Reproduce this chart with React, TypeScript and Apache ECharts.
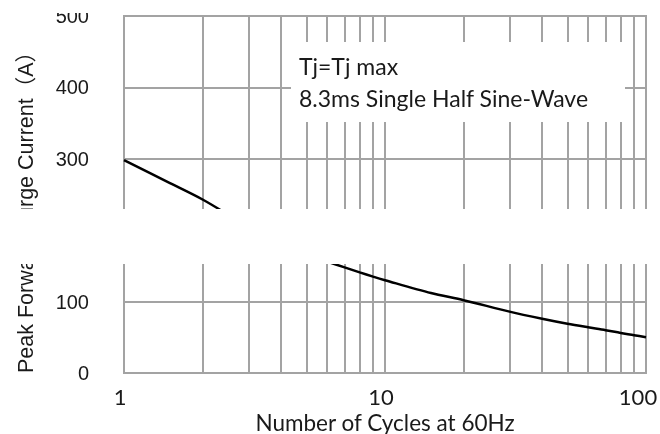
import React, { useEffect, useRef } from "react";
import * as echarts from "echarts";

const cycles = [1, 1.5, 2, 3, 4, 5, 6, 7, 8, 9, 10, 15, 20, 30, 40, 50, 60, 70, 80, 90, 100];
const surgeCurrent = [298, 266, 243, 205, 182, 166, 156, 148, 141, 135, 130, 112, 102, 86, 76, 69, 64, 60, 56, 53, 50];
const minorGridX = [2, 3, 4, 5, 6, 7, 8, 9, 20, 30, 40, 50, 60, 70, 80, 90];
const yTicks = [0, 100, 200, 300, 400, 500];
const noteLines = ["Tj=Tj max", "8.3ms Single Half Sine-Wave"];
const xName = "Number of Cycles at 60Hz";
const yName = "Peak Forward Surge Current\uFF08A\uFF09";

const GRID = "#a3a3a3";
const SANS = "Lato, 'Open Sans', sans-serif";

export default function App() {
  const ref = useRef<HTMLDivElement>(null);
  useEffect(() => {
    document.body.style.margin = "0";
    const chart = echarts.init(ref.current!, null, { renderer: "svg", width: 660, height: 434 });
    const tick = { fontFamily: SANS, fontSize: 22, lineHeight: 22, color: "#1a1a1a" };
    chart.setOption({
      animation: false,
      grid: {
        left: 124,
        right: 14,
        top: 16,
        bottom: 61,
        containLabel: false,
        outerBoundsMode: "none",
        show: true,
        borderColor: GRID,
        borderWidth: 2,
      },
      xAxis: {
        type: "log",
        logBase: 10,
        min: 1,
        max: 100,
        name: xName,
        nameLocation: "middle",
        nameGap: 38,
        nameMoveOverlap: false,
        nameTextStyle: { fontFamily: SANS, fontSize: 22.5, lineHeight: 22, color: "#1a1a1a" },
        axisLine: { show: true, lineStyle: { color: GRID, width: 2 } },
        axisTick: { show: false },
        axisLabel: {
          margin: 12,
          ...tick,
          formatter: (v: number) => (v >= 100 ? `{c|${v}}` : `{a|${v}}`),
          rich: {
            a: { ...tick, padding: [0, 8, 0, 0] },
            c: { ...tick, padding: [0, 16, 0, 0] },
          },
        },
        splitLine: { show: true, lineStyle: { color: GRID, width: 2 } },
      },
      yAxis: {
        type: "value",
        min: yTicks[0],
        max: yTicks[yTicks.length - 1],
        interval: 100,
        axisLine: { show: true, lineStyle: { color: GRID, width: 2 } },
        axisTick: { show: false },
        axisLabel: { margin: 35, fontFamily: "'Liberation Sans', Arial, sans-serif", fontSize: 20, color: "#1a1a1a" },
        splitLine: { show: true, lineStyle: { color: GRID, width: 2 } },
      },
      series: [
        {
          type: "line",
          data: [],
          z: 1,
          markLine: {
            silent: true,
            symbol: ["none", "none"],
            label: { show: false },
            lineStyle: { color: GRID, width: 2, type: "solid" },
            data: minorGridX.map((v) => ({ xAxis: v })),
          },
        },
        {
          type: "line",
          z: 5,
          symbol: "none",
          smooth: 0.3,
          lineStyle: { color: "#000", width: 2.5 },
          data: cycles.map((c, i) => [c, surgeCurrent[i]]),
        },
      ],
      graphic: [
        {
          type: "text",
          x: 26,
          y: 207,
          rotation: Math.PI / 2,
          z: 100,
          style: {
            text: yName,
            fontFamily: "'Liberation Sans', Arial, 'Noto Sans CJK SC', sans-serif",
            fontSize: 21.5,
            fill: "#1a1a1a",
            textAlign: "center",
            textVerticalAlign: "middle",
          },
        },
        { type: "rect", z: 110, shape: { x: 0, y: 0, width: 110, height: 13 }, style: { fill: "#fff" } },
        { type: "rect", z: 110, shape: { x: 0, y: 209, width: 660, height: 55 }, style: { fill: "#fff" } },
        { type: "rect", z: 110, shape: { x: 291, y: 42, width: 334, height: 80 }, style: { fill: "#fff" } },
        {
          type: "text",
          z: 120,
          x: 299,
          y: 66,
          style: { text: noteLines[0], fontFamily: SANS, fontSize: 23, fill: "#1a1a1a", textVerticalAlign: "middle" },
        },
        {
          type: "text",
          z: 120,
          x: 299,
          y: 98,
          style: { text: noteLines[1], fontFamily: SANS, fontSize: 23, fill: "#1a1a1a", textVerticalAlign: "middle" },
        },
      ],
    });
    return () => chart.dispose();
  }, []);
  return <div ref={ref} style={{ position: "fixed", left: 0, top: 0, width: 660, height: 434 }} />;
}
